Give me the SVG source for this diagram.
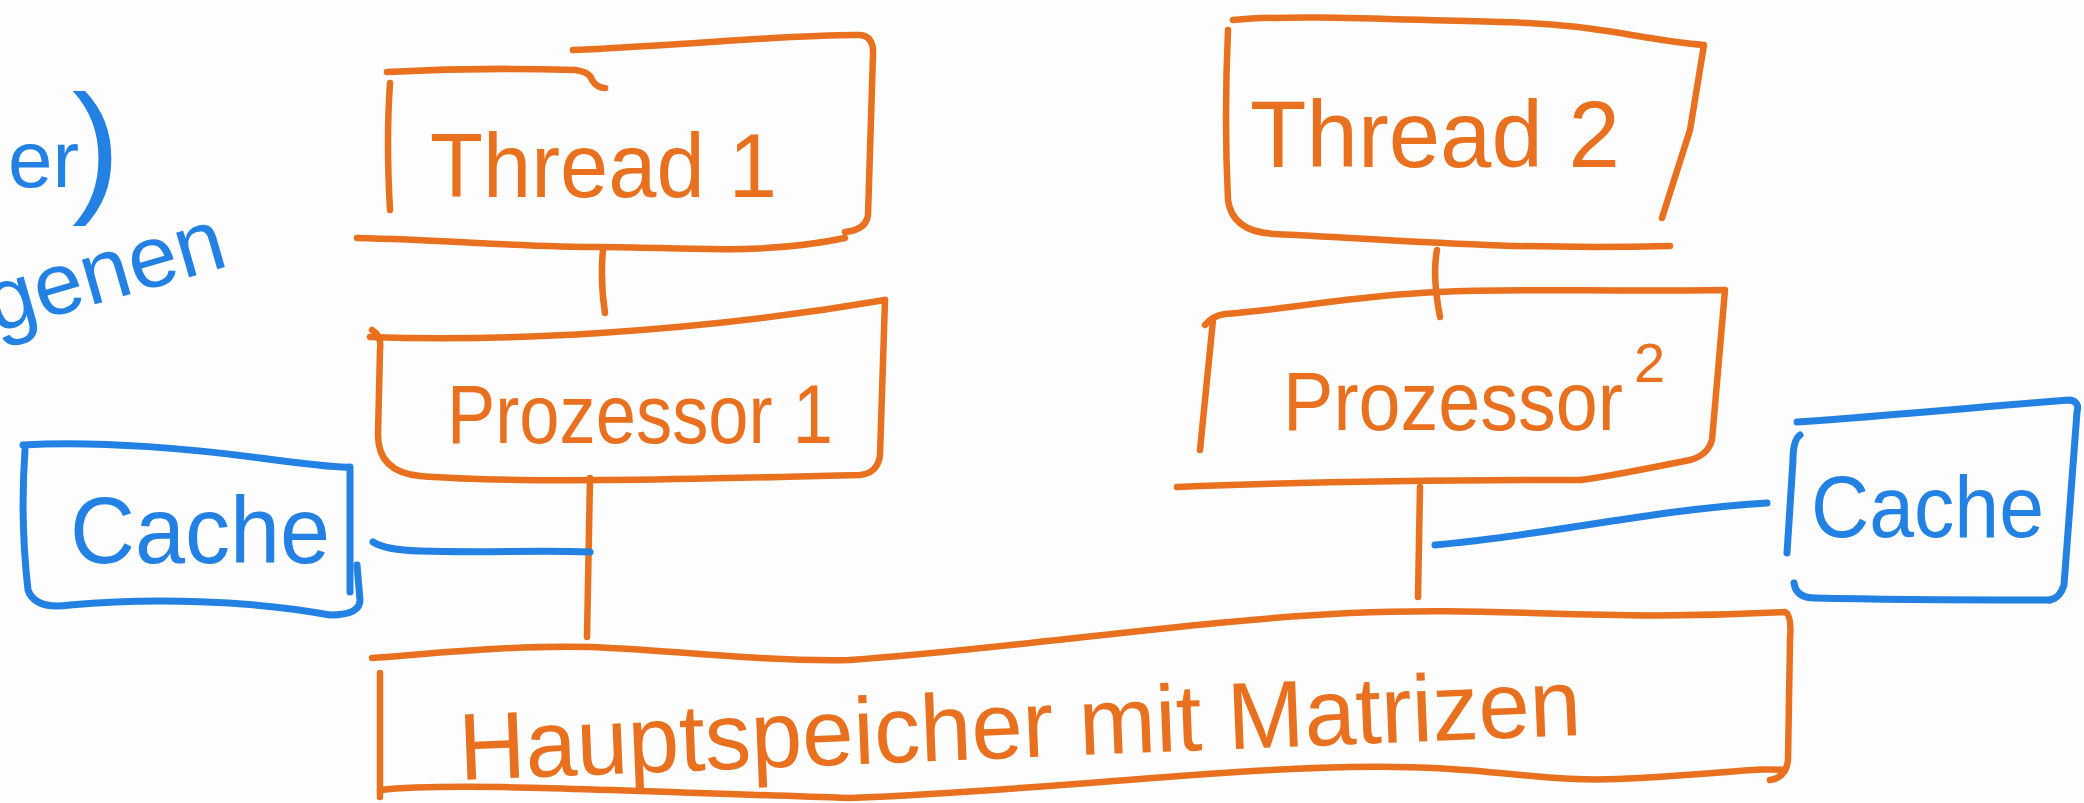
<svg xmlns="http://www.w3.org/2000/svg" width="2084" height="803" viewBox="0 0 2084 803">
<style>
.o{fill:none;stroke:#E8701E;stroke-width:6.5;stroke-linecap:round;stroke-linejoin:round}
.b{fill:none;stroke:#2381E3;stroke-width:7;stroke-linecap:round;stroke-linejoin:round}
.to{fill:#E8701E;font-family:"Liberation Sans",Arial,sans-serif}
.tb{fill:#2381E3;font-family:"Liberation Sans",Arial,sans-serif}
</style>
<rect width="2084" height="803" fill="#fdfdfd"/>
<g id="fragments">
<text class="tb" x="8" y="187" font-size="80">er<tspan x="72" y="196" font-size="145">)</tspan></text>
<text class="tb" x="-5" y="333" font-size="88" transform="rotate(-16 -5 333)">genen</text>
</g>
<g id="connectors">
<path class="o" d="M603 250 Q600 280 605 313"/>
<path class="o" d="M590 478 L587 637"/>
<path class="o" d="M1437 250 Q1432 275 1440 317"/>
<path class="o" d="M1420 487 L1418 597"/>
<path class="b" d="M373 542 Q385 550 420 551 C480 553 540 550 590 552"/>
<path class="b" d="M1435 545 C1550 535 1650 510 1767 503"/>
</g>
<g id="thread1">
<path class="o" d="M387 72 Q480 67 575 70 Q590 72 592 80 Q597 88 605 88"/>
<path class="o" d="M573 50 C700 44 800 34 860 35 Q874 36 873 55 L868 215 Q866 230 845 232"/>
<path class="o" d="M357 238 C450 240 520 247 600 247 S760 256 845 238"/>
<path class="o" d="M390 83 Q386 140 390 210"/>
<text class="to" x="430" y="197" font-size="90" textLength="347" lengthAdjust="spacingAndGlyphs">Thread 1</text>
</g>
<g id="processor1">
<path class="o" d="M370 337 C450 340 520 338 600 333 S780 318 885 300"/>
<path class="o" d="M372 330 Q382 336 380 350 L378 435 Q378 472 420 476 C520 484 700 479 860 475 Q878 473 880 455 L885 300"/>
<text class="to" x="447" y="443" font-size="84" textLength="386" lengthAdjust="spacingAndGlyphs">Prozessor 1</text>
</g>
<g id="thread2">
<path class="o" d="M1233 20 C1300 14 1400 20 1500 22 S1640 40 1704 45 L1690 130 L1662 218"/>
<path class="o" d="M1228 30 Q1224 120 1228 200 Q1232 232 1275 234 C1400 240 1500 250 1670 246"/>
<text class="to" x="1250" y="167" font-size="95" textLength="370" lengthAdjust="spacingAndGlyphs">Thread 2</text>
</g>
<g id="processor2">
<path class="o" d="M1205 325 Q1212 316 1225 314 C1300 308 1350 296 1437 292 S1600 292 1725 290 L1712 440 Q1708 455 1690 460 C1640 470 1600 478 1580 480"/>
<path class="o" d="M1177 487 C1300 482 1450 480 1580 480"/>
<path class="o" d="M1213 320 L1200 450"/>
<text class="to" x="1283" y="430" font-size="84" textLength="340" lengthAdjust="spacingAndGlyphs">Prozessor</text>
<text class="to" x="1634" y="382" font-size="56">2</text>
</g>
<g id="hauptspeicher">
<path class="o" d="M372 658 C450 652 520 645 590 647 S760 662 850 660 C1000 650 1200 620 1350 613 S1600 622 1785 612 Q1792 615 1790 640 L1788 760 Q1786 778 1770 780"/>
<path class="o" d="M380 790 C450 782 600 790 850 798 C1050 790 1200 770 1350 767 S1530 785 1640 778 S1760 768 1785 770"/>
<path class="o" d="M380 673 L380 797"/>
<text class="to" x="460" y="780" font-size="95" textLength="1123" lengthAdjust="spacingAndGlyphs" transform="rotate(-2.3 460 780)">Hauptspeicher mit Matrizen</text>
</g>
<g id="cache1">
<path class="b" d="M23 445 C100 440 200 450 260 458 S340 468 350 467 L350 592"/>
<path class="b" d="M25 450 Q20 520 28 590 Q35 610 70 605 C150 598 250 600 330 615 Q360 615 360 600 L357 565"/>
<text class="tb" x="70" y="563" font-size="95" textLength="260" lengthAdjust="spacingAndGlyphs">Cache</text>
</g>
<g id="cache2">
<path class="b" d="M1797 422 C1900 415 2000 405 2070 400 Q2080 402 2077 412 L2064 585 Q2060 598 2050 600"/>
<path class="b" d="M1794 583 Q1796 598 1815 598 C1900 600 1980 600 2050 600"/>
<path class="b" d="M1800 435 Q1793 440 1793 460 L1787 553"/>
<text class="tb" x="1811" y="537" font-size="88" textLength="233" lengthAdjust="spacingAndGlyphs">Cache</text>
</g>
</svg>
